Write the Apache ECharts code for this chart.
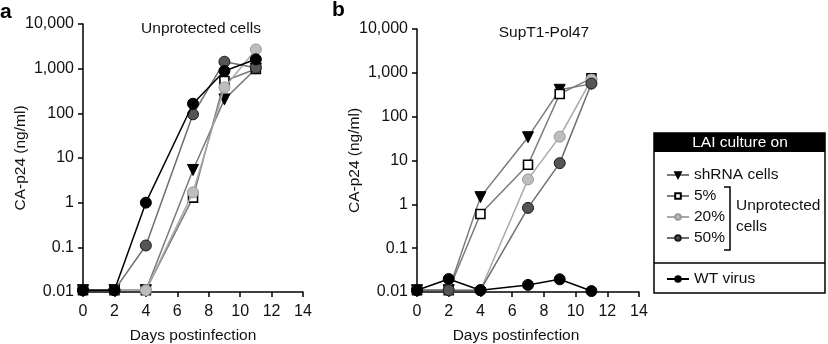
<!DOCTYPE html>
<html>
<head>
<meta charset="utf-8">
<script src="https://cdn.jsdelivr.net/npm/echarts@6/dist/echarts.min.js"></script>
<style>
  html, body { margin: 0; padding: 0; background: #fff; }
  #chart { width: 828px; height: 344px; }
</style>
</head>
<body>
<div id="chart"></div>
<script>
// days sampled
var days = [0, 2, 4, 7, 9, 11];
var seriesNames = ['shRNA cells', '5%', '20%', '50%', 'WT virus'];

// panel a - unprotected cells (CA-p24 ng/ml)
var aShRNA = [0.011, 0.011, 0.011, 5.4, 205, 1000];
var a5 = [0.011, 0.011, 0.011, 1.3, 530, 980];
var a20 = [0.011, 0.011, 0.011, 1.7, 380, 2700];
var a50 = [0.011, 0.011, 0.11, 95, 1430, 1050];
var aWT = [0.011, 0.011, 1, 164, 890, 1620];

// panel b - SupT1-Pol47
var bShRNA = [0.011, 0.011, 1.46, 34, 410, 560];
var b5 = [0.011, 0.011, 0.6, 8, 330, 750];
var b20 = [0.011, 0.011, 0.011, 3.7, 35, 700];
var b50 = [0.011, 0.011, 0.011, 0.83, 8.7, 570];
var bWT = [0.011, 0.0198, 0.011, 0.0145, 0.0195, 0.0105];

var yTickLabels = ['0.01', '0.1', '1', '10', '100', '1,000', '10,000'];

var FONT = '"Liberation Sans", Arial, sans-serif';

// look of each series: [symbol, rotate, fill, border, line colour]
var looks = [
  ['triangle', 180, '#000', '#000', '#7a7a7a'],
  ['rect', 0, '#fff', '#000', '#7a7a7a'],
  ['circle', 0, '#bdbdbd', '#999', '#a8a8a8'],
  ['circle', 0, '#555', '#1a1a1a', '#6e6e6e'],
  ['circle', 0, '#000', '#000', '#000']
];

function pairs(vals) {
  return days.map(function (d, i) { return [d, vals[i]]; });
}

function makeSeries(idx, vals, gi) {
  var lk = looks[idx];
  return {
    name: seriesNames[idx],
    type: 'line',
    xAxisIndex: gi,
    yAxisIndex: gi,
    data: pairs(vals),
    symbol: lk[0],
    symbolRotate: lk[1],
    symbolSize: lk[0] === 'rect' ? 9 : 11,
    showAllSymbol: true,
    clip: false,
    lineStyle: { color: lk[4], width: 1.5 },
    itemStyle: { color: lk[2], borderColor: lk[3], borderWidth: lk[0] === 'rect' ? 1.6 : 1 },
    emphasis: { disabled: true },
    z: 2 + idx
  };
}

function yLabel(v) {
  var e = Math.round(Math.log(v) / Math.LN10);
  return yTickLabels[e + 2] || '';
}

function xAxisOpt(gi) {
  return {
    type: 'value',
    gridIndex: gi,
    min: 0,
    max: 14,
    interval: 2,
    name: 'Days postinfection',
    nameLocation: 'middle',
    nameGap: 36,
    nameMoveOverlap: false,
    nameTextStyle: { fontFamily: FONT, fontSize: 15.5, color: '#111',
      padding: gi === 1 ? [0, 24, 0, 0] : [0, 0, 0, 0] },
    axisLine: { onZero: false, lineStyle: { color: '#000', width: 1.5 } },
    axisTick: { show: true, length: 5, lineStyle: { color: '#000', width: 1.5 } },
    axisLabel: { fontFamily: FONT, fontSize: 16, color: '#111', margin: 12 },
    splitLine: { show: false }
  };
}

function yAxisOpt(gi) {
  return {
    type: 'log',
    logBase: 10,
    gridIndex: gi,
    min: 0.01,
    max: 10000,
    splitNumber: 6,
    name: 'CA-p24 (ng/ml)',
    nameLocation: 'middle',
    nameGap: 54,
    nameMoveOverlap: false,
    nameTextStyle: { fontFamily: FONT, fontSize: 15.5, color: '#111' },
    axisLine: { show: true, lineStyle: { color: '#000', width: 1.5 } },
    axisTick: { show: true, length: 5, lineStyle: { color: '#000', width: 1.5 } },
    axisLabel: { fontFamily: FONT, fontSize: 16, color: '#111', margin: 9, formatter: yLabel },
    splitLine: { show: false }
  };
}

var series = [];
[aShRNA, a5, a20, a50, aWT].forEach(function (v, i) { series.push(makeSeries(i, v, 0)); });
[bShRNA, b5, b20, b50, bWT].forEach(function (v, i) { series.push(makeSeries(i, v, 1)); });

var legendText = { fontFamily: FONT, fontSize: 15.5, color: '#111', lineHeight: 16 };

var chart = echarts.init(document.getElementById('chart'), null, { renderer: 'canvas' });
chart.setOption({
  backgroundColor: '#fff',
  animation: false,
  grid: [
    { left: 83, top: 24, width: 220, height: 268, outerBoundsMode: 'none', containLabel: false },
    { left: 417, top: 29, width: 222, height: 263, outerBoundsMode: 'none', containLabel: false }
  ],
  xAxis: [xAxisOpt(0), xAxisOpt(1)],
  yAxis: [yAxisOpt(0), yAxisOpt(1)],
  legend: [
    {
      data: seriesNames.slice(0, 4),
      orient: 'vertical',
      left: 661,
      top: 162,
      itemWidth: 22,
      itemHeight: 7,
      itemGap: 5,
      textStyle: legendText,
      selectedMode: false
    },
    {
      data: ['WT virus'],
      orient: 'vertical',
      left: 661,
      top: 266,
      itemWidth: 22,
      itemHeight: 7,
      textStyle: legendText,
      selectedMode: false
    }
  ],
  graphic: [
    { type: 'text', left: 0, top: 2, style: { text: 'a', font: 'bold 21px ' + FONT, fill: '#000' } },
    { type: 'text', left: 332, top: 0, style: { text: 'b', font: 'bold 21px ' + FONT, fill: '#000' } },
    { type: 'text', x: 201, y: 29, style: { text: 'Unprotected cells', font: '15.5px ' + FONT, fill: '#111', align: 'center', verticalAlign: 'middle' } },
    { type: 'text', x: 544, y: 33, style: { text: 'SupT1-Pol47', font: '15.5px ' + FONT, fill: '#111', align: 'center', verticalAlign: 'middle' } },
    // legend frame
    { type: 'rect', shape: { x: 654, y: 133, width: 171, height: 160 }, style: { fill: 'none', stroke: '#000', lineWidth: 1.5 } },
    { type: 'rect', shape: { x: 654, y: 133, width: 171, height: 19 }, style: { fill: '#000' } },
    { type: 'line', shape: { x1: 654, y1: 263, x2: 825, y2: 263 }, style: { stroke: '#000', lineWidth: 1.5 } },
    { type: 'text', x: 740, y: 143, style: { text: 'LAI culture on', font: '15.5px ' + FONT, fill: '#fff', align: 'center', verticalAlign: 'middle' } },
    { type: 'polyline', shape: { points: [[724, 187], [730, 187], [730, 250], [724, 250]] }, style: { fill: 'none', stroke: '#000', lineWidth: 1.5 } },
    { type: 'text', x: 736, y: 206, style: { text: 'Unprotected', font: '15.5px ' + FONT, fill: '#111', verticalAlign: 'middle' } },
    { type: 'text', x: 736, y: 227, style: { text: 'cells', font: '15.5px ' + FONT, fill: '#111', verticalAlign: 'middle' } }
  ],
  series: series
});
</script>
</body>
</html>
